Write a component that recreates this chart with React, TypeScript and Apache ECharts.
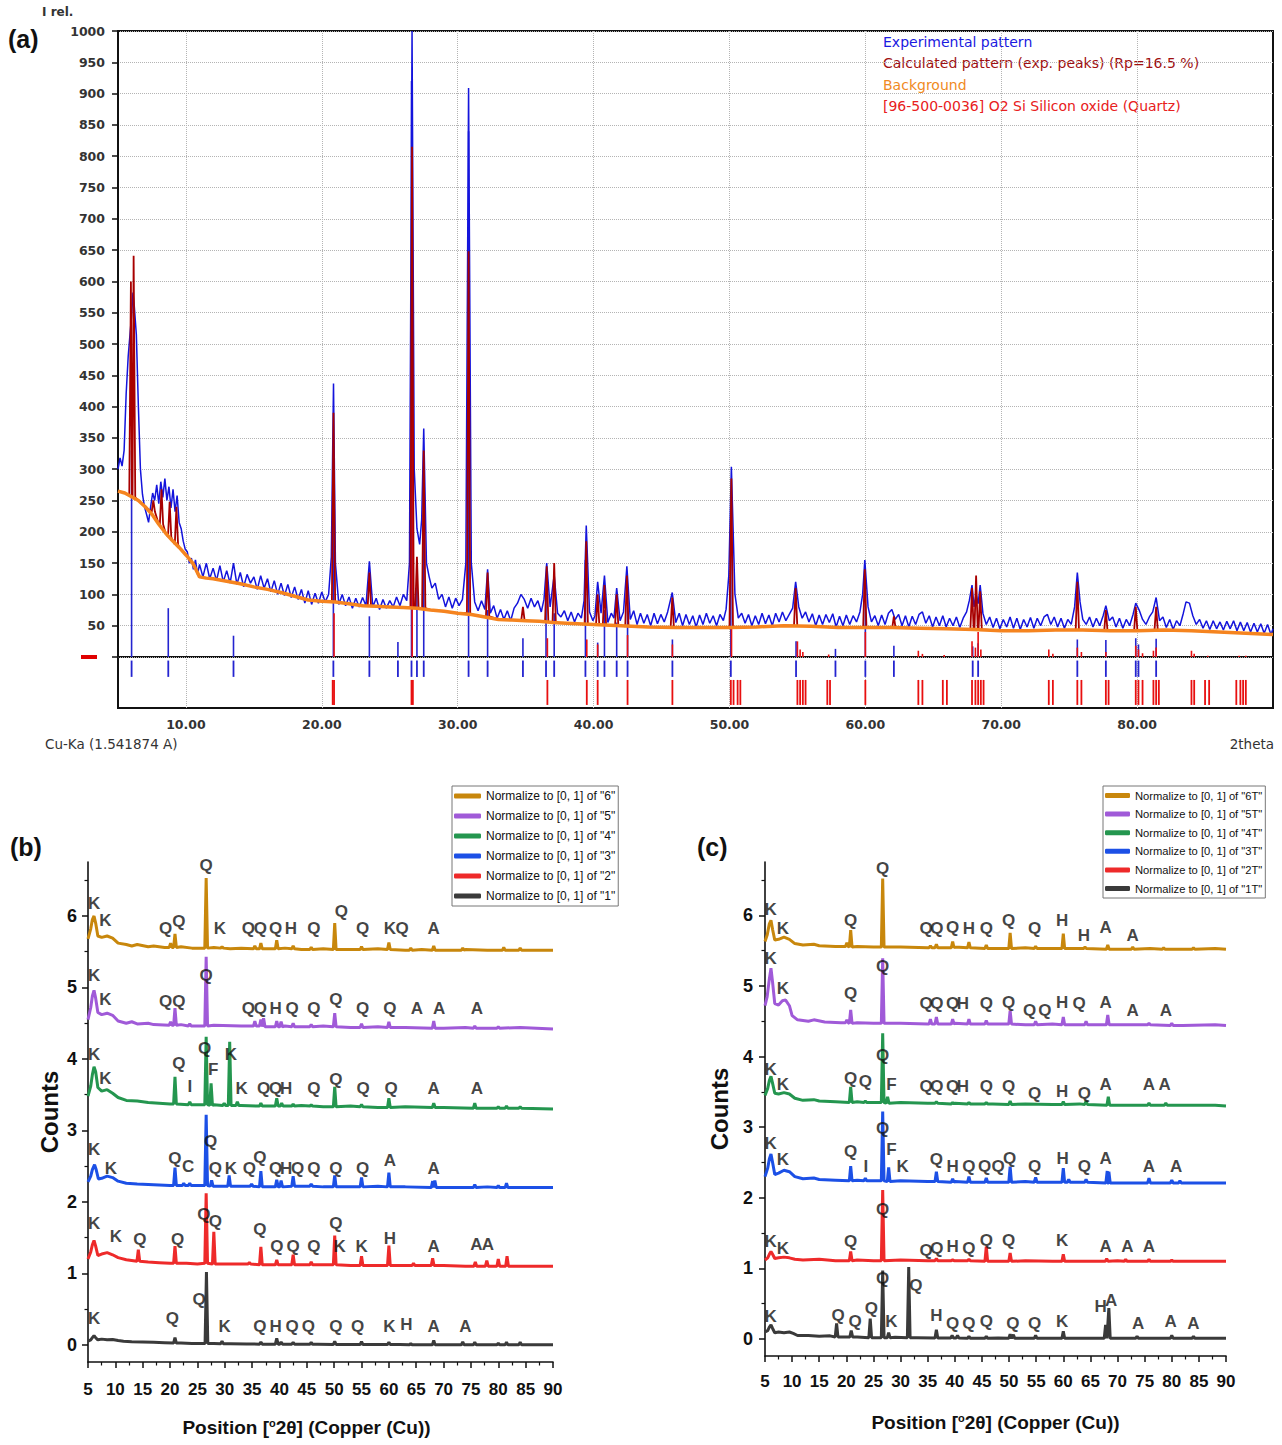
import React, { useEffect, useRef } from "react";
import * as echarts from "echarts";

type P = [number, number];
type Pk = [number, number, number];
type Lb = [number, number, string];

// ================= Panel (a) =================
const aXLabels = [10, 20, 30, 40, 50, 60, 70, 80];
const aLegendTexts = [
  "Experimental pattern",
  "Calculated pattern (exp. peaks) (Rp=16.5 %)",
  "Background",
  "[96-500-0036] O2 Si Silicon oxide (Quartz)",
];
const aExperimental: P[] = [
  [5.0, 300], [5.15, 318], [5.3, 305], [5.45, 330], [5.6, 420], [5.75, 480], [5.9, 520], [6.0, 545], [6.1, 582], [6.2, 560],
  [6.35, 515], [6.5, 400], [6.65, 300], [6.8, 260], [6.95, 240], [7.1, 228], [7.25, 215], [7.4, 240], [7.55, 262], [7.7, 250],
  [7.85, 275], [8.0, 245], [8.15, 280], [8.3, 255], [8.45, 285], [8.6, 250], [8.75, 272], [8.9, 238], [9.05, 268], [9.2, 232],
  [9.35, 258], [9.5, 215], [9.65, 205], [9.8, 185], [9.95, 172], [10.1, 168], [10.25, 150], [10.4, 158], [10.55, 140], [10.7, 155],
  [10.85, 132], [11.0, 148], [11.25, 128], [11.5, 150], [11.75, 125], [12.0, 142], [12.25, 122], [12.5, 146], [12.75, 120], [13.0, 138],
  [13.25, 118], [13.5, 150], [13.75, 116], [14.0, 135], [14.25, 112], [14.5, 132], [14.75, 118], [15.0, 128], [15.25, 108], [15.5, 130],
  [15.75, 110], [16.0, 125], [16.25, 104], [16.5, 122], [16.75, 100], [17.0, 118], [17.25, 98], [17.5, 116], [17.75, 95], [18.0, 112],
  [18.25, 92], [18.5, 108], [18.75, 86], [19.0, 106], [19.25, 84], [19.5, 102], [19.75, 86], [20.0, 104], [20.25, 88], [20.5, 100],
  [20.7, 160], [20.86, 437], [21.0, 150], [21.25, 84], [21.5, 100], [21.75, 82], [22.0, 96], [22.25, 78], [22.5, 94], [22.75, 80],
  [23.0, 95], [23.25, 82], [23.5, 153], [23.75, 80], [24.0, 94], [24.25, 76], [24.5, 92], [24.75, 78], [25.0, 90], [25.25, 80],
  [25.5, 96], [25.75, 82], [26.0, 100], [26.25, 90], [26.45, 150], [26.64, 1000], [26.8, 300], [27.0, 205], [27.2, 180], [27.35, 220],
  [27.5, 365], [27.7, 150], [27.9, 128], [28.1, 110], [28.35, 118], [28.6, 92], [28.85, 100], [29.1, 80], [29.35, 96], [29.6, 78],
  [29.85, 94], [30.1, 82], [30.35, 92], [30.6, 150], [30.8, 909], [31.0, 150], [31.25, 88], [31.5, 74], [31.75, 90], [32.0, 76],
  [32.2, 140], [32.4, 70], [32.65, 82], [32.9, 62], [33.15, 76], [33.4, 60], [33.65, 74], [33.9, 58], [34.15, 78], [34.4, 86],
  [34.65, 100], [34.9, 92], [35.15, 78], [35.4, 94], [35.65, 80], [35.9, 90], [36.15, 72], [36.35, 92], [36.55, 150], [36.8, 80],
  [37.1, 131], [37.35, 70], [37.6, 64], [37.85, 74], [38.1, 58], [38.35, 72], [38.6, 56], [38.85, 70], [39.1, 62], [39.3, 90],
  [39.46, 210], [39.7, 72], [39.95, 58], [40.1, 66], [40.3, 120], [40.55, 70], [40.8, 130], [41.05, 55], [41.3, 70], [41.5, 62],
  [41.7, 110], [41.95, 58], [42.2, 72], [42.45, 145], [42.7, 60], [42.95, 74], [43.2, 52], [43.45, 70], [43.7, 54], [43.95, 68],
  [44.2, 50], [44.45, 70], [44.7, 53], [44.95, 68], [45.2, 56], [45.45, 72], [45.79, 103], [46.05, 55], [46.3, 70], [46.55, 50],
  [46.8, 68], [47.05, 52], [47.3, 66], [47.55, 48], [47.8, 67], [48.05, 52], [48.3, 70], [48.55, 54], [48.8, 66], [49.05, 50],
  [49.3, 68], [49.55, 58], [49.75, 76], [49.95, 130], [50.14, 304], [50.4, 101], [50.65, 62], [50.9, 70], [51.15, 54], [51.4, 68],
  [51.65, 50], [51.9, 66], [52.15, 52], [52.4, 70], [52.65, 53], [52.9, 67], [53.15, 50], [53.4, 70], [53.65, 56], [53.9, 72],
  [54.15, 58], [54.4, 68], [54.65, 78], [54.87, 120], [55.1, 80], [55.35, 62], [55.6, 72], [55.85, 56], [56.1, 69], [56.35, 50],
  [56.6, 67], [56.85, 52], [57.1, 68], [57.35, 55], [57.6, 69], [57.85, 48], [58.1, 65], [58.35, 50], [58.6, 67], [58.85, 52],
  [59.1, 66], [59.35, 56], [59.6, 72], [59.8, 100], [59.96, 155], [60.2, 80], [60.45, 56], [60.7, 66], [60.95, 50], [61.2, 67],
  [61.45, 52], [61.7, 70], [61.95, 76], [62.2, 60], [62.45, 68], [62.7, 50], [62.95, 66], [63.2, 48], [63.45, 65], [63.7, 52],
  [63.95, 68], [64.2, 72], [64.45, 54], [64.7, 66], [64.95, 48], [65.2, 64], [65.45, 50], [65.7, 66], [65.95, 48], [66.2, 62],
  [66.45, 50], [66.7, 64], [66.95, 47], [67.2, 62], [67.45, 72], [67.65, 90], [67.85, 115], [68.0, 80], [68.15, 100], [68.3, 85],
  [68.45, 115], [68.65, 70], [68.9, 52], [69.15, 64], [69.4, 47], [69.65, 62], [69.9, 45], [70.15, 60], [70.4, 48], [70.65, 64],
  [70.9, 46], [71.15, 62], [71.4, 44], [71.65, 60], [71.9, 48], [72.15, 63], [72.4, 46], [72.65, 62], [72.9, 50], [73.15, 64],
  [73.4, 68], [73.65, 52], [73.9, 64], [74.15, 48], [74.4, 62], [74.65, 46], [74.9, 60], [75.15, 52], [75.4, 80], [75.6, 135],
  [75.8, 88], [76.0, 60], [76.25, 52], [76.5, 64], [76.75, 48], [77.0, 62], [77.25, 50], [77.5, 66], [77.7, 82], [77.95, 58],
  [78.2, 64], [78.45, 48], [78.7, 62], [78.95, 46], [79.2, 60], [79.45, 50], [79.7, 68], [79.9, 86], [80.15, 75], [80.4, 60],
  [80.65, 52], [80.9, 64], [81.15, 72], [81.4, 95], [81.65, 58], [81.9, 64], [82.15, 47], [82.4, 60], [82.65, 44], [82.9, 58],
  [83.15, 50], [83.4, 70], [83.6, 88], [83.85, 86], [84.1, 66], [84.35, 52], [84.6, 60], [84.85, 46], [85.1, 58], [85.35, 44],
  [85.6, 58], [85.85, 45], [86.1, 56], [86.35, 43], [86.6, 57], [86.85, 45], [87.1, 58], [87.35, 42], [87.6, 56], [87.85, 42],
  [88.1, 55], [88.35, 40], [88.6, 54], [88.85, 40], [89.1, 53], [89.35, 38], [89.6, 52], [89.85, 36], [90.0, 45],
];
const aBackground: P[] = [
  [5, 265], [5.5, 262], [6, 256], [6.5, 250], [7, 240], [7.5, 228], [8, 212], [8.5, 198], [9, 186], [9.5, 175],
  [10, 163], [10.5, 150], [11, 128], [11.5, 126], [12, 125], [13, 121], [14, 117], [15, 112], [16, 108], [17, 103],
  [18, 97], [19, 91], [20, 89], [21, 88], [22, 85], [23, 82], [24, 81], [25, 80], [26, 79], [27, 78],
  [28, 75], [29, 73], [30, 70], [31, 68], [32, 64], [33, 60], [34, 59], [35, 58], [36, 57], [37, 55],
  [38, 54], [40, 52], [42, 50], [44, 48], [46, 47], [48, 47], [50, 47], [52, 48], [54, 50], [56, 49],
  [58, 47], [60, 47], [62, 47], [64, 46], [66, 45], [68, 44], [70, 42], [72, 42], [74, 43], [76, 43],
  [78, 42], [80, 42], [82, 43], [84, 42], [86, 40], [88, 38], [90, 36],
];
// [position, top, base]
const aCalcPeaks: Pk[] = [
  [5.95, 600, 258], [6.15, 641, 255], [7.6, 250, 232], [8.2, 268, 212], [8.8, 248, 192], [9.3, 240, 180],
  [20.86, 390, 88], [23.5, 135, 82], [26.64, 815, 79], [27.0, 160, 78], [27.5, 330, 78], [30.8, 648, 70],
  [32.2, 135, 65], [34.8, 80, 59], [36.55, 145, 56], [37.1, 150, 55], [39.46, 185, 52], [40.3, 100, 52],
  [40.8, 115, 51], [41.7, 100, 50], [42.45, 130, 49], [45.79, 95, 47], [50.14, 285, 47], [54.87, 110, 50],
  [59.96, 140, 47], [62.1, 65, 47], [67.85, 110, 44], [68.15, 130, 44], [68.45, 105, 44], [75.6, 120, 43],
  [77.7, 75, 42], [79.9, 80, 42], [81.4, 80, 43],
];
// sticks above the zero line: [position, height]
const aBlueSticksUp: P[] = [
  [6.0, 330], [8.7, 78], [13.5, 34], [20.85, 350], [23.5, 65], [25.6, 24], [26.6, 920], [27.0, 125], [27.5, 285],
  [30.8, 840], [32.2, 75], [34.8, 30], [36.5, 95], [37.1, 70], [39.4, 155], [40.3, 23], [40.8, 75], [41.7, 55],
  [42.5, 95], [45.8, 28], [50.1, 250], [54.9, 25], [57.8, 13], [60.0, 105], [62.1, 18], [67.9, 17], [68.3, 22],
  [75.6, 28], [77.7, 27], [79.9, 30], [80.1, 20], [81.4, 29],
];
const aRedSticksUp: P[] = [
  [20.9, 70], [26.65, 750], [36.6, 30], [39.5, 28], [40.3, 20], [42.5, 35], [45.8, 20], [50.15, 45], [55.0, 25],
  [55.2, 12], [55.4, 8], [57.3, 4], [60.0, 40], [63.9, 10], [64.2, 5], [65.8, 3], [67.85, 25], [68.1, 15],
  [68.3, 40], [68.5, 12], [73.5, 12], [73.8, 5], [75.6, 15], [75.9, 8], [77.7, 8], [79.9, 18], [80.1, 12],
  [80.4, 6], [81.2, 10], [81.4, 15], [84.0, 10], [84.2, 5], [85.2, 2], [87.5, 2], [88.0, 2],
];
// reference sticks below the zero line (positions)
const aBlueSticks = [
  6.0, 8.7, 13.5, 20.85, 23.5, 25.6, 26.6, 27.0, 27.5, 30.8, 32.2, 34.8, 36.5, 37.1, 39.4, 40.3, 40.8, 41.7, 42.5,
  45.8, 50.1, 54.9, 57.8, 60.0, 62.1, 67.9, 68.3, 75.6, 77.7, 79.9, 80.1, 81.4,
];
const aRedSticks = [
  20.8, 20.9, 26.6, 26.7, 36.6, 39.5, 40.3, 42.5, 45.8, 50.1, 50.3, 50.6, 50.8, 55.0, 55.2, 55.4, 55.6, 57.2, 57.4,
  60.0, 63.9, 64.2, 65.7, 66.0, 67.85, 68.1, 68.3, 68.5, 68.7, 73.5, 73.8, 75.6, 75.9, 77.7, 77.9, 79.9, 80.1, 80.4,
  81.2, 81.4, 81.6, 84.0, 84.2, 85.0, 85.3, 87.3, 87.6, 87.8, 88.0,
];

// ================= Panel (b) =================
const bNames = [
  'Normalize to [0, 1] of "6"', 'Normalize to [0, 1] of "5"', 'Normalize to [0, 1] of "4"',
  'Normalize to [0, 1] of "3"', 'Normalize to [0, 1] of "2"', 'Normalize to [0, 1] of "1"',
];
const b6Base: P[] = [[5, 5.68], [5.5, 5.82], [5.8, 5.95], [6.1, 6.0], [6.4, 5.9], [6.8, 5.72], [7.5, 5.7], [8.5, 5.72], [9.5, 5.69], [10.5, 5.62], [12, 5.6], [13, 5.58], [14, 5.6], [16, 5.57], [17, 5.58], [19, 5.56], [22, 5.57], [24, 5.55], [28, 5.56], [31, 5.54], [33, 5.55], [38, 5.54], [41, 5.55], [44, 5.53], [48, 5.54], [53, 5.53], [58, 5.54], [63, 5.52], [66, 5.53], [70, 5.52], [74, 5.53], [78, 5.52], [84, 5.53], [87, 5.52], [90, 5.52]];
const b6Peaks: Pk[] = [[20.1, 5.62, 5.56], [20.9, 5.75, 5.56], [26.6, 6.53, 5.55], [29.5, 5.57, 5.55], [35.5, 5.58, 5.54], [36.6, 5.62, 5.54], [39.5, 5.66, 5.54], [42.5, 5.58, 5.54], [45.8, 5.56, 5.53], [50.1, 5.9, 5.53], [55, 5.57, 5.53], [60, 5.63, 5.53], [64, 5.55, 5.52], [68.2, 5.58, 5.52], [73.5, 5.55, 5.52], [81, 5.56, 5.52], [84, 5.55, 5.52]];
const b5Base: P[] = [[5, 4.55], [5.5, 4.72], [5.8, 4.88], [6.1, 4.96], [6.4, 4.85], [6.8, 4.65], [7.5, 4.62], [8.5, 4.64], [9.5, 4.61], [10.5, 4.53], [12, 4.5], [13, 4.52], [14, 4.49], [16, 4.5], [17, 4.48], [20, 4.47], [22, 4.48], [24, 4.46], [28, 4.47], [33, 4.46], [38, 4.45], [41, 4.46], [44, 4.45], [48, 4.46], [53, 4.44], [58, 4.45], [63, 4.44], [70, 4.43], [74, 4.44], [78, 4.43], [84, 4.44], [90, 4.42]];
const b5Peaks: Pk[] = [[20.1, 4.52, 4.47], [20.9, 4.71, 4.47], [23.6, 4.49, 4.46], [26.6, 5.43, 4.46], [35.5, 4.53, 4.46], [36.6, 4.55, 4.46], [37.1, 4.57, 4.45], [39.5, 4.53, 4.45], [40.3, 4.52, 4.45], [42.5, 4.5, 4.45], [45.8, 4.48, 4.45], [50.1, 4.64, 4.45], [55, 4.49, 4.44], [60, 4.52, 4.44], [68.2, 4.53, 4.43], [75.7, 4.46, 4.43], [80, 4.45, 4.43]];
const b4Base: P[] = [[5, 3.48], [5.5, 3.62], [5.8, 3.78], [6.1, 3.89], [6.4, 3.82], [6.8, 3.6], [7.5, 3.55], [8.5, 3.57], [9.5, 3.52], [10.5, 3.46], [12, 3.42], [14, 3.41], [16, 3.39], [18, 3.38], [20, 3.37], [24, 3.36], [28, 3.36], [33, 3.35], [38, 3.34], [44, 3.35], [48, 3.33], [53, 3.34], [58, 3.32], [63, 3.33], [70, 3.32], [78, 3.31], [84, 3.32], [90, 3.3]];
const b4Peaks: Pk[] = [[20.9, 3.75, 3.37], [23.6, 3.4, 3.36], [26.6, 4.31, 3.36], [27.5, 3.66, 3.35], [29.9, 3.38, 3.35], [30.9, 4.24, 3.35], [32.3, 3.4, 3.35], [36.6, 3.38, 3.34], [39.5, 3.45, 3.34], [40.4, 3.38, 3.34], [42.5, 3.37, 3.34], [45.8, 3.36, 3.34], [50.1, 3.61, 3.33], [55, 3.36, 3.33], [60, 3.45, 3.32], [68.2, 3.38, 3.32], [75.7, 3.38, 3.31], [80, 3.33, 3.31], [81.5, 3.34, 3.31], [84, 3.33, 3.31]];
const b3Base: P[] = [[5, 2.28], [5.5, 2.36], [5.8, 2.45], [6.2, 2.52], [6.5, 2.45], [6.9, 2.32], [7.5, 2.33], [8.5, 2.36], [9.5, 2.34], [10.5, 2.29], [12, 2.26], [14, 2.25], [17, 2.24], [20, 2.23], [24, 2.23], [28, 2.22], [33, 2.22], [38, 2.21], [44, 2.22], [48, 2.21], [53, 2.21], [58, 2.22], [63, 2.21], [70, 2.2], [78, 2.21], [84, 2.2], [90, 2.2]];
const b3Peaks: Pk[] = [[20.9, 2.48, 2.23], [22.5, 2.26, 2.23], [23.6, 2.26, 2.23], [26.6, 3.22, 2.23], [27.6, 2.3, 2.22], [30.8, 2.37, 2.22], [34.9, 2.25, 2.22], [36.6, 2.43, 2.21], [39.5, 2.31, 2.21], [40.3, 2.3, 2.21], [42.5, 2.36, 2.22], [45.8, 2.25, 2.22], [50.1, 2.37, 2.21], [55.0, 2.34, 2.21], [60.0, 2.41, 2.21], [68.0, 2.29, 2.2], [68.4, 2.3, 2.2], [75.7, 2.24, 2.2], [80, 2.23, 2.2], [81.5, 2.26, 2.2]];
const b2Base: P[] = [[5, 1.2], [5.5, 1.3], [5.8, 1.4], [6.1, 1.46], [6.4, 1.38], [6.8, 1.25], [7.5, 1.27], [8.5, 1.29], [9.5, 1.26], [10.5, 1.22], [12, 1.19], [14, 1.17], [16, 1.16], [18, 1.15], [20, 1.14], [23, 1.14], [25, 1.13], [30, 1.13], [33, 1.13], [38, 1.12], [44, 1.12], [48, 1.12], [53, 1.11], [58, 1.11], [63, 1.11], [66, 1.11], [70, 1.11], [74, 1.1], [79, 1.1], [84, 1.1], [88, 1.1], [90, 1.1]];
const b2Peaks: Pk[] = [[14.2, 1.33, 1.17], [20.9, 1.38, 1.14], [26.6, 2.12, 1.14], [28.0, 1.58, 1.13], [34.5, 1.15, 1.13], [36.6, 1.37, 1.12], [39.5, 1.19, 1.12], [42.5, 1.26, 1.12], [45.8, 1.16, 1.12], [50.1, 1.53, 1.12], [55.0, 1.24, 1.11], [60.0, 1.39, 1.11], [64.5, 1.14, 1.11], [68.0, 1.21, 1.11], [75.8, 1.16, 1.1], [77.9, 1.18, 1.1], [80.0, 1.2, 1.1], [81.6, 1.24, 1.1]];
const b1Base: P[] = [[5, 0.05], [5.5, 0.07], [5.8, 0.1], [6.1, 0.13], [6.4, 0.1], [6.8, 0.07], [7.5, 0.08], [8.5, 0.07], [9.5, 0.075], [10.5, 0.06], [11.5, 0.05], [13, 0.045], [15, 0.04], [17, 0.035], [19, 0.03], [22, 0.025], [24, 0.02], [28, 0.02], [31, 0.015], [34, 0.012], [38, 0.01], [42, 0.01], [47, 0.008], [52, 0.005], [57, 0.005], [62, 0.005], [66, 0.0], [70, 0.0], [75, 0.0], [80, 0.0], [85, 0.0], [90, 0.0]];
const b1Peaks: Pk[] = [[20.9, 0.1, 0.025], [26.65, 1.02, 0.02], [29.5, 0.05, 0.015], [36.6, 0.04, 0.01], [39.5, 0.09, 0.01], [40.3, 0.04, 0.01], [42.5, 0.035, 0.01], [45.8, 0.035, 0.008], [50.1, 0.05, 0.005], [55, 0.045, 0.005], [60, 0.035, 0.005], [64, 0.02, 0.0], [68.2, 0.06, 0.0], [73.5, 0.04, 0.0], [75.7, 0.035, 0], [80, 0.025, 0], [81.5, 0.035, 0], [84, 0.035, 0]];
const bLabels: Lb[] = [
  [6.1, 6.18, "K"], [8.2, 5.94, "K"], [19.2, 5.83, "Q"], [21.6, 5.92, "Q"], [26.6, 6.71, "Q"], [29.1, 5.83, "K"], [34.3, 5.83, "Q"], [36.5, 5.83, "Q"], [39.3, 5.83, "Q"], [42.1, 5.83, "H"], [46.3, 5.82, "Q"], [51.3, 6.06, "Q"], [55.2, 5.83, "Q"], [60.2, 5.83, "K"], [62.4, 5.83, "Q"], [68.2, 5.83, "A"],
  [6.1, 5.17, "K"], [8.2, 4.83, "K"], [19.2, 4.8, "Q"], [21.6, 4.8, "Q"], [26.6, 5.17, "Q"], [34.3, 4.71, "Q"], [36.5, 4.71, "Q"], [39.3, 4.71, "H"], [42.3, 4.71, "Q"], [46.3, 4.71, "Q"], [50.3, 4.83, "Q"], [55.2, 4.71, "Q"], [60.2, 4.71, "Q"], [65.1, 4.71, "A"], [69.2, 4.71, "A"], [76.1, 4.71, "A"],
  [6.1, 4.06, "K"], [8.2, 3.73, "K"], [21.6, 3.94, "Q"], [23.6, 3.61, "I"], [26.3, 4.15, "Q"], [27.9, 3.85, "F"], [31.1, 4.06, "K"], [33.1, 3.59, "K"], [37.1, 3.59, "Q"], [39.3, 3.59, "Q"], [41.2, 3.59, "H"], [46.3, 3.59, "Q"], [50.3, 3.71, "Q"], [55.3, 3.59, "Q"], [60.4, 3.59, "Q"], [68.2, 3.59, "A"], [76.1, 3.59, "A"],
  [6.1, 2.73, "K"], [9.2, 2.47, "K"], [20.9, 2.61, "Q"], [23.3, 2.49, "C"], [27.4, 2.84, "Q"], [28.3, 2.47, "Q"], [31.1, 2.47, "K"], [34.5, 2.47, "Q"], [36.4, 2.62, "Q"], [39.3, 2.47, "Q"], [41.2, 2.47, "H"], [43.3, 2.47, "Q"], [46.3, 2.47, "Q"], [50.3, 2.47, "Q"], [55.2, 2.47, "Q"], [60.2, 2.58, "A"], [68.2, 2.47, "A"],
  [6.1, 1.7, "K"], [10.1, 1.51, "K"], [14.5, 1.48, "Q"], [21.4, 1.48, "Q"], [26.2, 1.82, "Q"], [28.3, 1.72, "Q"], [36.4, 1.61, "Q"], [39.5, 1.37, "Q"], [42.5, 1.37, "Q"], [46.3, 1.37, "Q"], [50.3, 1.7, "Q"], [51.0, 1.37, "K"], [55.0, 1.37, "K"], [60.2, 1.49, "H"], [68.2, 1.37, "A"], [76.0, 1.4, "A"], [78.1, 1.4, "A"],
  [6.1, 0.37, "K"], [20.4, 0.37, "Q"], [25.3, 0.63, "Q"], [30.0, 0.26, "K"], [36.4, 0.26, "Q"], [39.3, 0.26, "H"], [42.3, 0.26, "Q"], [45.3, 0.26, "Q"], [50.3, 0.26, "Q"], [54.3, 0.26, "Q"], [60.1, 0.26, "K"], [63.2, 0.28, "H"], [68.2, 0.26, "A"], [74.0, 0.26, "A"],
];

// ================= Panel (c) =================
const cNames = [
  'Normalize to [0, 1] of "6T"', 'Normalize to [0, 1] of "5T"', 'Normalize to [0, 1] of "4T"',
  'Normalize to [0, 1] of "3T"', 'Normalize to [0, 1] of "2T"', 'Normalize to [0, 1] of "1T"',
];
const c6Base: P[] = [[5, 5.63], [5.4, 5.72], [5.8, 5.88], [6.1, 5.93], [6.4, 5.8], [6.8, 5.65], [7.5, 5.66], [8.5, 5.69], [9.5, 5.66], [10.5, 5.6], [12, 5.58], [14, 5.59], [15, 5.57], [18, 5.56], [22, 5.56], [25, 5.55], [30, 5.55], [35, 5.54], [40, 5.55], [47, 5.53], [53, 5.54], [58, 5.53], [63, 5.53], [70, 5.52], [76, 5.53], [82, 5.52], [88, 5.53], [90, 5.52]];
const c6Peaks: Pk[] = [[20.1, 5.61, 5.56], [20.8, 5.79, 5.55], [26.7, 6.52, 5.55], [35.5, 5.57, 5.54], [36.6, 5.59, 5.54], [39.6, 5.63, 5.54], [42.6, 5.62, 5.54], [45.8, 5.58, 5.53], [50.2, 5.75, 5.53], [54.9, 5.56, 5.53], [60, 5.74, 5.53], [64, 5.55, 5.53], [68.2, 5.58, 5.52], [72.8, 5.55, 5.52], [78.5, 5.54, 5.52], [84, 5.54, 5.52]];
const c5Base: P[] = [[5, 4.72], [5.4, 4.85], [5.8, 5.1], [6.1, 5.25], [6.4, 5.05], [6.8, 4.75], [7.5, 4.73], [8.2, 4.79], [8.8, 4.8], [9.5, 4.72], [10, 4.58], [11, 4.52], [13, 4.5], [14, 4.52], [16, 4.49], [19, 4.48], [22, 4.48], [25, 4.47], [30, 4.47], [35, 4.46], [40, 4.47], [47, 4.46], [53, 4.45], [58, 4.46], [63, 4.45], [70, 4.45], [76, 4.46], [82, 4.44], [88, 4.45], [90, 4.44]];
const c5Peaks: Pk[] = [[20.1, 4.52, 4.48], [20.8, 4.66, 4.47], [26.7, 5.39, 4.47], [35.5, 4.53, 4.46], [36.6, 4.56, 4.46], [39.6, 4.53, 4.46], [42.6, 4.53, 4.46], [45.8, 4.51, 4.46], [50.2, 4.65, 4.46], [54.9, 4.5, 4.45], [60, 4.56, 4.45], [64.2, 4.5, 4.45], [68.2, 4.59, 4.45], [75.8, 4.47, 4.45], [80, 4.47, 4.44]];
const c4Base: P[] = [[5, 3.45], [5.5, 3.55], [5.8, 3.66], [6.1, 3.72], [6.4, 3.62], [6.8, 3.48], [7.5, 3.47], [8.5, 3.49], [9.5, 3.47], [10.5, 3.41], [12, 3.38], [14, 3.39], [15, 3.37], [18, 3.36], [22, 3.36], [25, 3.35], [30, 3.35], [35, 3.34], [40, 3.34], [47, 3.33], [53, 3.33], [58, 3.32], [63, 3.33], [70, 3.31], [76, 3.32], [82, 3.31], [88, 3.31], [90, 3.3]];
const c4Peaks: Pk[] = [[20.8, 3.57, 3.35], [23.5, 3.37, 3.35], [26.7, 4.33, 3.35], [27.6, 3.43, 3.34], [36.6, 3.36, 3.34], [39.6, 3.35, 3.33], [42.6, 3.35, 3.33], [45.8, 3.35, 3.33], [50.2, 3.37, 3.32], [60, 3.36, 3.32], [64.2, 3.37, 3.32], [68.3, 3.43, 3.31], [75.8, 3.34, 3.31], [78.9, 3.34, 3.31]];
const c3Base: P[] = [[5, 2.3], [5.5, 2.42], [5.8, 2.55], [6.1, 2.62], [6.4, 2.5], [6.8, 2.33], [7.5, 2.35], [8.5, 2.39], [9.5, 2.37], [10.5, 2.3], [12, 2.27], [14, 2.28], [15, 2.26], [18, 2.25], [22, 2.25], [25, 2.24], [30, 2.24], [35, 2.23], [40, 2.23], [47, 2.22], [53, 2.23], [58, 2.22], [63, 2.22], [70, 2.21], [76, 2.22], [82, 2.21], [88, 2.21], [90, 2.21]];
const c3Peaks: Pk[] = [[20.8, 2.45, 2.24], [23.5, 2.28, 2.24], [26.7, 3.22, 2.24], [27.8, 2.43, 2.23], [36.6, 2.37, 2.23], [39.6, 2.27, 2.22], [42.6, 2.3, 2.22], [45.8, 2.28, 2.22], [50.2, 2.44, 2.22], [54.9, 2.29, 2.22], [60, 2.42, 2.22], [61, 2.26, 2.22], [64.2, 2.26, 2.22], [68.1, 2.38, 2.21], [68.4, 2.37, 2.21], [75.8, 2.28, 2.21], [80, 2.25, 2.21], [81.5, 2.24, 2.21]];
const c2Base: P[] = [[5, 1.12], [5.5, 1.15], [5.8, 1.2], [6.1, 1.24], [6.4, 1.2], [6.8, 1.14], [7.5, 1.15], [8.5, 1.16], [9.5, 1.15], [10.5, 1.13], [12, 1.12], [15, 1.13], [18, 1.11], [22, 1.12], [25, 1.11], [30, 1.12], [35, 1.11], [40, 1.11], [47, 1.1], [53, 1.11], [58, 1.1], [63, 1.1], [70, 1.11], [76, 1.1], [82, 1.1], [88, 1.1], [90, 1.1]];
const c2Peaks: Pk[] = [[20.8, 1.24, 1.11], [26.7, 2.11, 1.11], [36.6, 1.14, 1.11], [39.6, 1.12, 1.11], [42.6, 1.13, 1.11], [45.8, 1.31, 1.1], [50.2, 1.22, 1.1], [60, 1.2, 1.1], [68, 1.14, 1.1], [71.5, 1.13, 1.1], [75.8, 1.13, 1.1], [80, 1.12, 1.1]];
const c1Base: P[] = [[5, 0.1], [5.5, 0.12], [5.8, 0.17], [6.1, 0.2], [6.4, 0.15], [6.8, 0.09], [7.5, 0.1], [8.5, 0.09], [9.5, 0.1], [10.2, 0.08], [11, 0.05], [13, 0.05], [15, 0.04], [17, 0.045], [19, 0.03], [22, 0.03], [25, 0.02], [29, 0.025], [33, 0.02], [38, 0.015], [44, 0.01], [48, 0.015], [53, 0.01], [58, 0.01], [63, 0.012], [66, 0.01], [71, 0.01], [76, 0.012], [82, 0.01], [87, 0.01], [90, 0.01]];
const c1Peaks: Pk[] = [[18.2, 0.22, 0.03], [20.9, 0.12, 0.03], [24.4, 0.29, 0.02], [26.7, 0.97, 0.02], [27.8, 0.09, 0.02], [31.5, 1.02, 0.02], [36.6, 0.13, 0.015], [39.5, 0.05, 0.015], [40.5, 0.05, 0.015], [42.6, 0.04, 0.01], [45.8, 0.04, 0.01], [50.2, 0.07, 0.01], [50.8, 0.06, 0.01], [54.9, 0.05, 0.01], [60, 0.11, 0.01], [67.8, 0.2, 0.01], [68.4, 0.44, 0.01], [73.6, 0.04, 0.01], [80, 0.05, 0.01], [84, 0.04, 0.01]];
const cLabels: Lb[] = [
  [6.05, 0.32, "K"], [18.5, 0.34, "Q"], [21.6, 0.25, "Q"], [24.6, 0.43, "Q"], [26.7, 0.86, "Q"], [28.3, 0.25, "K"], [32.8, 0.76, "Q"], [36.6, 0.34, "H"], [39.6, 0.22, "Q"], [42.6, 0.22, "Q"], [45.8, 0.25, "Q"], [50.7, 0.22, "Q"], [54.7, 0.22, "Q"], [59.8, 0.25, "K"], [66.9, 0.46, "H"], [68.8, 0.55, "A"], [73.8, 0.22, "A"], [79.8, 0.25, "A"], [84.0, 0.22, "A"],
  [6.05, 1.38, "K"], [8.3, 1.28, "K"], [20.8, 1.38, "Q"], [26.7, 1.83, "Q"], [34.7, 1.26, "Q"], [36.7, 1.28, "Q"], [39.6, 1.31, "H"], [42.6, 1.28, "Q"], [45.8, 1.4, "Q"], [49.9, 1.4, "Q"], [59.8, 1.39, "K"], [67.8, 1.31, "A"], [71.8, 1.31, "A"], [75.8, 1.31, "A"],
  [6.05, 2.77, "K"], [8.3, 2.54, "K"], [20.8, 2.65, "Q"], [23.6, 2.45, "I"], [26.7, 2.98, "Q"], [28.3, 2.68, "F"], [30.4, 2.45, "K"], [36.6, 2.54, "Q"], [39.6, 2.45, "H"], [42.6, 2.45, "Q"], [45.5, 2.45, "Q"], [48.0, 2.45, "Q"], [50.1, 2.56, "Q"], [54.7, 2.45, "Q"], [59.9, 2.55, "H"], [63.9, 2.45, "Q"], [67.8, 2.55, "A"], [75.8, 2.45, "A"], [80.8, 2.45, "A"],
  [6.05, 3.82, "K"], [8.3, 3.6, "K"], [20.8, 3.69, "Q"], [23.5, 3.64, "Q"], [26.7, 4.02, "Q"], [28.3, 3.6, "F"], [34.7, 3.58, "Q"], [36.7, 3.58, "Q"], [39.6, 3.58, "Q"], [41.5, 3.58, "H"], [45.8, 3.58, "Q"], [49.9, 3.58, "Q"], [54.7, 3.48, "Q"], [59.8, 3.5, "H"], [63.9, 3.48, "Q"], [67.8, 3.6, "A"], [75.8, 3.6, "A"], [78.7, 3.6, "A"],
  [6.05, 5.39, "K"], [8.3, 4.97, "K"], [20.8, 4.9, "Q"], [26.7, 5.28, "Q"], [34.7, 4.75, "Q"], [36.7, 4.75, "Q"], [39.6, 4.75, "Q"], [41.5, 4.75, "H"], [45.8, 4.75, "Q"], [49.9, 4.76, "Q"], [53.8, 4.65, "Q"], [56.6, 4.65, "Q"], [59.8, 4.76, "H"], [62.9, 4.75, "Q"], [67.8, 4.76, "A"], [72.8, 4.65, "A"], [78.9, 4.65, "A"],
  [6.05, 6.08, "K"], [8.3, 5.82, "K"], [20.8, 5.93, "Q"], [26.7, 6.67, "Q"], [34.7, 5.82, "Q"], [36.7, 5.82, "Q"], [39.6, 5.83, "Q"], [42.6, 5.82, "H"], [45.8, 5.82, "Q"], [49.9, 5.93, "Q"], [54.7, 5.82, "Q"], [59.8, 5.93, "H"], [63.8, 5.71, "H"], [67.8, 5.83, "A"], [72.8, 5.71, "A"],
];

const yIntTicks = [0, 1, 2, 3, 4, 5, 6];
const yHalfTicks = [0.5, 1.5, 2.5, 3.5, 4.5, 5.5, 6.5];
const traceColors = ["#c8870c", "#a05ad8", "#24964f", "#1c50e6", "#ee2a2a", "#3a3a3a"];

// ---------- helpers ----------
function buildTrace(base: P[], peaks: Pk[], hw: number): P[] {
  const pts: P[] = base.filter(([x]) => !peaks.some(([px]) => Math.abs(px - x) <= hw));
  for (const [px, top, b] of peaks) pts.push([px - hw, b], [px, top], [px + hw, b]);
  pts.sort((p, q) => p[0] - q[0]);
  return pts;
}

const SANS = "'DejaVu Sans', Verdana, sans-serif";
const ARIAL = "'Liberation Sans', Arial, sans-serif";

const stickRender = (color: string, w: number) => (_p: any, api: any) => {
  const x = api.value(0);
  const p0 = api.coord([x, api.value(1)]);
  const p1 = api.coord([x, api.value(2)]);
  return {
    type: "line",
    shape: { x1: p0[0], y1: p0[1], x2: p1[0], y2: p1[1] },
    style: { stroke: color, lineWidth: w },
  };
};

function bcXAxis(gridIndex: number, margin: number, nameGap: number, padRight: number) {
  return {
    gridIndex, type: "value", min: 5, max: 90, interval: 5,
    axisLine: { show: true, onZero: false, lineStyle: { color: "#111", width: 1.6 } },
    axisTick: { show: true, length: 6, lineStyle: { color: "#111", width: 1.5 } },
    minorTick: { show: true, splitNumber: 2, length: 3.5, lineStyle: { color: "#111", width: 1.2 } },
    axisLabel: { fontFamily: ARIAL, fontSize: 17, fontWeight: "bold", color: "#111", margin, showMinLabel: true, showMaxLabel: true },
    splitLine: { show: false },
    name: "Position [{sup|o}2θ] (Copper (Cu))",
    nameLocation: "middle", nameGap,
    nameTextStyle: {
      fontFamily: ARIAL, fontSize: 19, fontWeight: "bold", color: "#111", padding: [0, padRight, 0, 0],
      rich: { sup: { fontFamily: ARIAL, fontSize: 11, fontWeight: "bold", color: "#111", padding: [0, 0, 10, 0] } },
    },
  };
}
function bcYAxis(gridIndex: number, margin: number, nameGap: number) {
  return {
    gridIndex, type: "value", min: -0.24, max: 6.755, position: "left",
    axisLine: { show: true, onZero: false, lineStyle: { color: "#111", width: 1.6 } },
    axisTick: { show: true, length: 6, customValues: yIntTicks, lineStyle: { color: "#111", width: 1.5 } },
    axisLabel: { customValues: yIntTicks, fontFamily: ARIAL, fontSize: 18, fontWeight: "bold", color: "#111", margin },
    splitLine: { show: false },
    name: "Counts", nameLocation: "middle", nameGap,
    nameTextStyle: { fontFamily: ARIAL, fontSize: 24, fontWeight: "bold", color: "#111" },
  };
}
function bcYMinor(gridIndex: number) {
  return {
    gridIndex, type: "value", min: -0.24, max: 6.755, position: "left",
    axisLine: { show: false },
    axisTick: { show: true, length: 3.5, customValues: yHalfTicks, lineStyle: { color: "#111", width: 1.2 } },
    axisLabel: { show: false, customValues: yHalfTicks },
    splitLine: { show: false },
  };
}

export default function App() {
  const ref = useRef<HTMLDivElement>(null);
  useEffect(() => {
    document.body.style.margin = "0";
    if (!ref.current) return;
    const chart = echarts.init(ref.current, undefined, { renderer: "svg" });

    const aCalc = buildTrace(aBackground, aCalcPeaks, 0.12);
    const bTraces = [
      buildTrace(b6Base, b6Peaks, 0.25), buildTrace(b5Base, b5Peaks, 0.25), buildTrace(b4Base, b4Peaks, 0.25),
      buildTrace(b3Base, b3Peaks, 0.25), buildTrace(b2Base, b2Peaks, 0.25), buildTrace(b1Base, b1Peaks, 0.25),
    ];
    const cTraces = [
      buildTrace(c6Base, c6Peaks, 0.25), buildTrace(c5Base, c5Peaks, 0.25), buildTrace(c4Base, c4Peaks, 0.25),
      buildTrace(c3Base, c3Peaks, 0.25), buildTrace(c2Base, c2Peaks, 0.25), buildTrace(c1Base, c1Peaks, 0.25),
    ];

    const gridLineStyle = { color: "#b4b4b4", type: "dotted", width: 1 };
    const labelSeries = (xi: number, yi: number, labels: Lb[]) => ({
      type: "scatter", xAxisIndex: xi, yAxisIndex: yi, symbolSize: 0, silent: true, z: 6,
      data: labels.map((l) => ({ value: [l[0], l[1]], label: { formatter: l[2] } })),
      label: { show: true, position: "inside", fontFamily: ARIAL, fontSize: 17, fontWeight: "bold", color: "#111" },
    });

    const option: any = {
      animation: false,
      backgroundColor: "#ffffff",
      grid: [
        { left: 118, top: 31, width: 1155, height: 626, show: true, borderColor: "#111", borderWidth: 2, outerBoundsMode: "none" },
        { left: 118, top: 657, width: 1155, height: 51, show: true, borderColor: "#111", borderWidth: 2, outerBoundsMode: "none" },
        { left: 88, top: 862, width: 465, height: 500, outerBoundsMode: "none" },
        { left: 765, top: 862, width: 461, height: 494, outerBoundsMode: "none" },
      ],
      xAxis: [
        {
          gridIndex: 0, type: "value", min: 5, max: 90,
          axisLine: { show: false, onZero: false },
          axisTick: { show: false, customValues: aXLabels },
          axisLabel: { show: false, customValues: aXLabels },
          splitLine: { show: true, lineStyle: gridLineStyle },
        },
        {
          gridIndex: 1, type: "value", min: 5, max: 90,
          axisLine: { show: false, onZero: false },
          axisTick: { show: false, customValues: aXLabels },
          axisLabel: {
            show: true, customValues: aXLabels, formatter: (v: number) => v.toFixed(2),
            fontFamily: SANS, fontSize: 12.5, fontWeight: "bold", color: "#333", margin: 10,
          },
          splitLine: { show: true, lineStyle: gridLineStyle },
        },
        bcXAxis(2, 19, 55, 28),
        bcXAxis(3, 17, 56, 0),
      ],
      yAxis: [
        {
          gridIndex: 0, type: "value", min: 0, max: 1000, interval: 50,
          axisLine: { show: true, onZero: false, lineStyle: { color: "#111", width: 2 } },
          axisTick: { show: true, length: 6, lineStyle: { color: "#111", width: 1.5 } },
          axisLabel: {
            formatter: (v: number) => (v === 0 ? "" : String(v)),
            fontFamily: SANS, fontSize: 12.5, fontWeight: "bold", color: "#333", margin: 13,
          },
          splitLine: { show: true, lineStyle: gridLineStyle },
        },
        { gridIndex: 1, type: "value", min: 0, max: 1, show: false },
        bcYAxis(2, 11, 27),
        bcYMinor(2),
        bcYAxis(3, 12, 34),
        bcYMinor(3),
      ],
      legend: [
        {
          data: bNames, left: 452, top: 786, orient: "vertical", icon: "roundRect",
          itemWidth: 27, itemHeight: 5, itemGap: 8, padding: [4, 3, 4, 2],
          borderColor: "#777", borderWidth: 1, selectedMode: false,
          textStyle: { fontFamily: ARIAL, fontSize: 12, color: "#111" },
        },
        {
          data: cNames, left: 1103, top: 786, orient: "vertical", icon: "roundRect",
          itemWidth: 25, itemHeight: 5, itemGap: 7.6, padding: [4, 3, 4, 2],
          borderColor: "#777", borderWidth: 1, selectedMode: false,
          textStyle: { fontFamily: ARIAL, fontSize: 11.2, color: "#111" },
        },
      ],
      series: [
        // ---- (a)
        {
          type: "custom", xAxisIndex: 0, yAxisIndex: 0, silent: true, z: 2,
          renderItem: stickRender("#2424d0", 1.6), encode: { x: 0, y: [1, 2] },
          data: aBlueSticksUp.map(([x, h]) => [x, 0, h]),
        },
        {
          type: "custom", xAxisIndex: 0, yAxisIndex: 0, silent: true, z: 2,
          renderItem: stickRender("#e81010", 1.6), encode: { x: 0, y: [1, 2] },
          data: aRedSticksUp.map(([x, h]) => [x, 0, h]),
        },
        {
          type: "line", xAxisIndex: 0, yAxisIndex: 0, data: aExperimental, showSymbol: false, symbol: "none",
          lineStyle: { color: "#1414dc", width: 1.5 }, z: 3, silent: true,
        },
        {
          type: "line", xAxisIndex: 0, yAxisIndex: 0, data: aCalc, showSymbol: false, symbol: "none",
          lineStyle: { color: "#a80000", width: 1.8 }, z: 4, silent: true,
        },
        {
          type: "line", xAxisIndex: 0, yAxisIndex: 0, data: aBackground, showSymbol: false, symbol: "none",
          lineStyle: { color: "#f5841f", width: 3.5 }, z: 5, silent: true,
        },
        {
          type: "custom", xAxisIndex: 1, yAxisIndex: 1, silent: true, z: 2,
          renderItem: stickRender("#2424d0", 1.8), encode: { x: 0, y: [1, 2] },
          data: aBlueSticks.map((x) => [x, 0.61, 0.93]),
        },
        {
          type: "custom", xAxisIndex: 1, yAxisIndex: 1, silent: true, z: 2,
          renderItem: stickRender("#e81010", 1.8), encode: { x: 0, y: [1, 2] },
          data: aRedSticks.map((x) => [x, 0.06, 0.55]),
        },
        // ---- (b)
        ...bTraces.map((d, i) => ({
          type: "line", name: bNames[i], xAxisIndex: 2, yAxisIndex: 2, data: d, showSymbol: false, symbol: "none",
          lineStyle: { color: traceColors[i], width: 3 }, itemStyle: { color: traceColors[i] }, z: 3, silent: true,
        })),
        labelSeries(2, 2, bLabels),
        // ---- (c)
        ...cTraces.map((d, i) => ({
          type: "line", name: cNames[i], xAxisIndex: 3, yAxisIndex: 4, data: d, showSymbol: false, symbol: "none",
          lineStyle: { color: traceColors[i], width: 3 }, itemStyle: { color: traceColors[i] }, z: 3, silent: true,
        })),
        labelSeries(3, 4, cLabels),
      ],
      graphic: [
        { type: "text", left: 8, top: 26, style: { text: "(a)", fontFamily: ARIAL, fontSize: 25, fontWeight: "bold", fill: "#111" } },
        { type: "text", left: 42, top: 6, style: { text: "I rel.", fontFamily: SANS, fontSize: 12, fontWeight: "bold", fill: "#333" } },
        { type: "rect", shape: { x: 81, y: 655, width: 16, height: 4 }, style: { fill: "#e00000" } },
        ...aLegendTexts.map((t, i) => ({
          type: "text", x: 883, y: [42, 63, 85, 106][i],
          style: { text: t, fontFamily: SANS, fontSize: 14, fill: ["#1a1ae0", "#a01010", "#f08a1e", "#e82020"][i], verticalAlign: "middle" },
        })),
        { type: "text", left: 45, top: 737, style: { text: "Cu-Ka (1.541874 A)", fontFamily: SANS, fontSize: 13.5, fill: "#333" } },
        { type: "text", right: 8, top: 737, style: { text: "2theta", fontFamily: SANS, fontSize: 13.5, fill: "#333" } },
        { type: "text", left: 10, top: 834, style: { text: "(b)", fontFamily: ARIAL, fontSize: 25, fontWeight: "bold", fill: "#111" } },
        { type: "text", left: 697, top: 834, style: { text: "(c)", fontFamily: ARIAL, fontSize: 25, fontWeight: "bold", fill: "#111" } },
      ],
    };
    chart.setOption(option);
    return () => chart.dispose();
  }, []);
  return <div ref={ref} style={{ width: 1282, height: 1445 }} />;
}
